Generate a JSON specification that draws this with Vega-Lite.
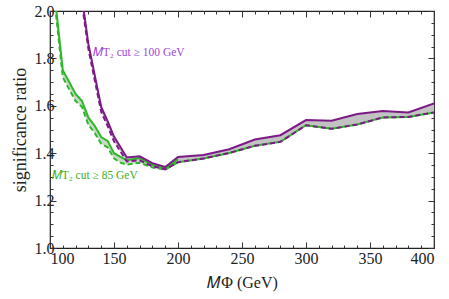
{
  "$schema": "https://vega.github.io/schema/vega-lite/v6.json",
  "width": 384,
  "height": 237,
  "autosize": {"type": "none"},
  "padding": {"left": 50, "top": 11, "right": 15, "bottom": 51},
  "config": {
    "view": {"stroke": "#222", "strokeWidth": 1.2},
    "font": "Liberation Serif",
    "axis": {"grid": false, "domain": false, "tickColor": "#333", "labelColor": "#222", "titleColor": "#222", "labelFont": "Liberation Serif", "titleFont": "Liberation Serif", "titleFontWeight": "normal", "labelFontSize": 16, "titleFontSize": 16}
  },
  "datasets": {
    "purple": [
      {"M": 120, "hi": 2.25, "lo": 2.22},
      {"M": 130, "hi": 1.86, "lo": 1.84},
      {"M": 140, "hi": 1.595, "lo": 1.575},
      {"M": 145, "hi": 1.535, "lo": 1.515},
      {"M": 150, "hi": 1.47, "lo": 1.45},
      {"M": 160, "hi": 1.382, "lo": 1.365},
      {"M": 170, "hi": 1.387, "lo": 1.37},
      {"M": 180, "hi": 1.358, "lo": 1.345},
      {"M": 190, "hi": 1.342, "lo": 1.332},
      {"M": 200, "hi": 1.384, "lo": 1.362},
      {"M": 220, "hi": 1.392, "lo": 1.378},
      {"M": 240, "hi": 1.417, "lo": 1.401},
      {"M": 260, "hi": 1.458, "lo": 1.431},
      {"M": 280, "hi": 1.476, "lo": 1.448},
      {"M": 300, "hi": 1.54, "lo": 1.518},
      {"M": 320, "hi": 1.537, "lo": 1.503},
      {"M": 340, "hi": 1.565, "lo": 1.521},
      {"M": 360, "hi": 1.578, "lo": 1.551},
      {"M": 380, "hi": 1.572, "lo": 1.553},
      {"M": 400, "hi": 1.61, "lo": 1.572}
    ],
    "green": [
      {"M": 100, "hi": 2.25, "lo": 2.22},
      {"M": 110, "hi": 1.75, "lo": 1.72},
      {"M": 120, "hi": 1.65, "lo": 1.62},
      {"M": 125, "hi": 1.62, "lo": 1.595},
      {"M": 130, "hi": 1.55, "lo": 1.52},
      {"M": 135, "hi": 1.515, "lo": 1.485},
      {"M": 140, "hi": 1.468, "lo": 1.44},
      {"M": 145, "hi": 1.452, "lo": 1.425},
      {"M": 150, "hi": 1.40, "lo": 1.378},
      {"M": 155, "hi": 1.385, "lo": 1.36},
      {"M": 160, "hi": 1.37, "lo": 1.352},
      {"M": 170, "hi": 1.38, "lo": 1.36},
      {"M": 180, "hi": 1.35, "lo": 1.34},
      {"M": 190, "hi": 1.337, "lo": 1.331},
      {"M": 200, "hi": 1.375, "lo": 1.362}
    ],
    "labels": [
      {"M": 133.4, "v": 1.823, "t": "𝑀T₂ cut  ≥ 100 GeV", "c": "purple"},
      {"M": 101.3, "v": 1.303, "t": "𝑀T₂ cut  ≥ 85 GeV", "c": "green"}
    ]
  },
  "layer": [
    {
      "data": {"name": "green"},
      "mark": {"type": "area", "color": "#c9d9c6", "clip": true},
      "encoding": {
        "x": {"field": "M", "type": "quantitative", "scale": {"domain": [100, 400], "nice": false}, "title": "𝑀Φ (GeV)", "axis": {"orient": "bottom", "values": [100, 150, 200, 250, 300, 350, 400], "tickSize": -6, "labelPadding": 8, "titlePadding": 8}},
        "y": {"field": "hi", "type": "quantitative", "scale": {"domain": [1, 2], "nice": false, "zero": false}, "title": "significance ratio", "axis": {"orient": "left", "values": [1.0, 1.2, 1.4, 1.6, 1.8, 2.0], "format": ".1f", "tickSize": -6, "labelPadding": 2, "titlePadding": 5, "titleFontSize": 18}},
        "y2": {"field": "lo"}
      }
    },
    {
      "data": {"name": "purple"},
      "mark": {"type": "area", "color": "#c2c2c2", "clip": true},
      "encoding": {
        "x": {"field": "M", "type": "quantitative", "axis": {"orient": "bottom", "values": [110, 120, 130, 140, 160, 170, 180, 190, 210, 220, 230, 240, 260, 270, 280, 290, 310, 320, 330, 340, 360, 370, 380, 390], "tickSize": -3, "labels": false, "title": null}},
        "y": {"field": "hi", "type": "quantitative", "axis": {"orient": "left", "values": [1.05, 1.1, 1.15, 1.25, 1.3, 1.35, 1.45, 1.5, 1.55, 1.65, 1.7, 1.75, 1.85, 1.9, 1.95], "tickSize": -3, "labels": false, "title": null}},
        "y2": {"field": "lo"}
      }
    },
    {
      "data": {"name": "green"},
      "mark": {"type": "line", "color": "#2db82a", "strokeWidth": 2, "clip": true},
      "encoding": {
        "x": {"field": "M", "type": "quantitative", "axis": {"orient": "top", "values": [100, 150, 200, 250, 300, 350, 400], "tickSize": -6, "labels": false, "title": null}},
        "y": {"field": "hi", "type": "quantitative", "axis": {"orient": "right", "values": [1.0, 1.2, 1.4, 1.6, 1.8, 2.0], "tickSize": -6, "labels": false, "title": null}}
      }
    },
    {
      "data": {"name": "green"},
      "mark": {"type": "line", "color": "#2db82a", "strokeWidth": 2, "strokeDash": [5, 3], "clip": true},
      "encoding": {
        "x": {"field": "M", "type": "quantitative", "axis": {"orient": "top", "values": [110, 120, 130, 140, 160, 170, 180, 190, 210, 220, 230, 240, 260, 270, 280, 290, 310, 320, 330, 340, 360, 370, 380, 390], "tickSize": -3, "labels": false, "title": null}},
        "y": {"field": "lo", "type": "quantitative", "axis": {"orient": "right", "values": [1.05, 1.1, 1.15, 1.25, 1.3, 1.35, 1.45, 1.5, 1.55, 1.65, 1.7, 1.75, 1.85, 1.9, 1.95], "tickSize": -3, "labels": false, "title": null}}
      }
    },
    {
      "data": {"name": "purple"},
      "transform": [{"filter": "datum.M >= 190"}],
      "mark": {"type": "line", "color": "#2db82a", "strokeWidth": 2, "clip": true},
      "encoding": {
        "x": {"field": "M", "type": "quantitative", "axis": null},
        "y": {"field": "lo", "type": "quantitative", "axis": null}
      }
    },
    {
      "data": {"name": "purple"},
      "mark": {"type": "line", "color": "#7d1a87", "strokeWidth": 2, "clip": true},
      "encoding": {
        "x": {"field": "M", "type": "quantitative", "axis": null},
        "y": {"field": "hi", "type": "quantitative", "axis": null}
      }
    },
    {
      "data": {"name": "purple"},
      "mark": {"type": "line", "color": "#7d1a87", "strokeWidth": 2, "strokeDash": [5, 3], "clip": true},
      "encoding": {
        "x": {"field": "M", "type": "quantitative", "axis": null},
        "y": {"field": "lo", "type": "quantitative", "axis": null}
      }
    },
    {
      "data": {"name": "labels"},
      "mark": {"type": "text", "align": "left", "baseline": "middle", "fontSize": 11.5, "font": "Liberation Serif"},
      "encoding": {
        "x": {"field": "M", "type": "quantitative", "axis": null},
        "y": {"field": "v", "type": "quantitative", "axis": null},
        "text": {"field": "t"},
        "color": {"field": "c", "type": "nominal", "scale": {"domain": ["purple", "green"], "range": ["#9b45d6", "#3aae1e"]}, "legend": null}
      }
    }
  ],
  "resolve": {"axis": {"x": "independent", "y": "independent"}}
}
